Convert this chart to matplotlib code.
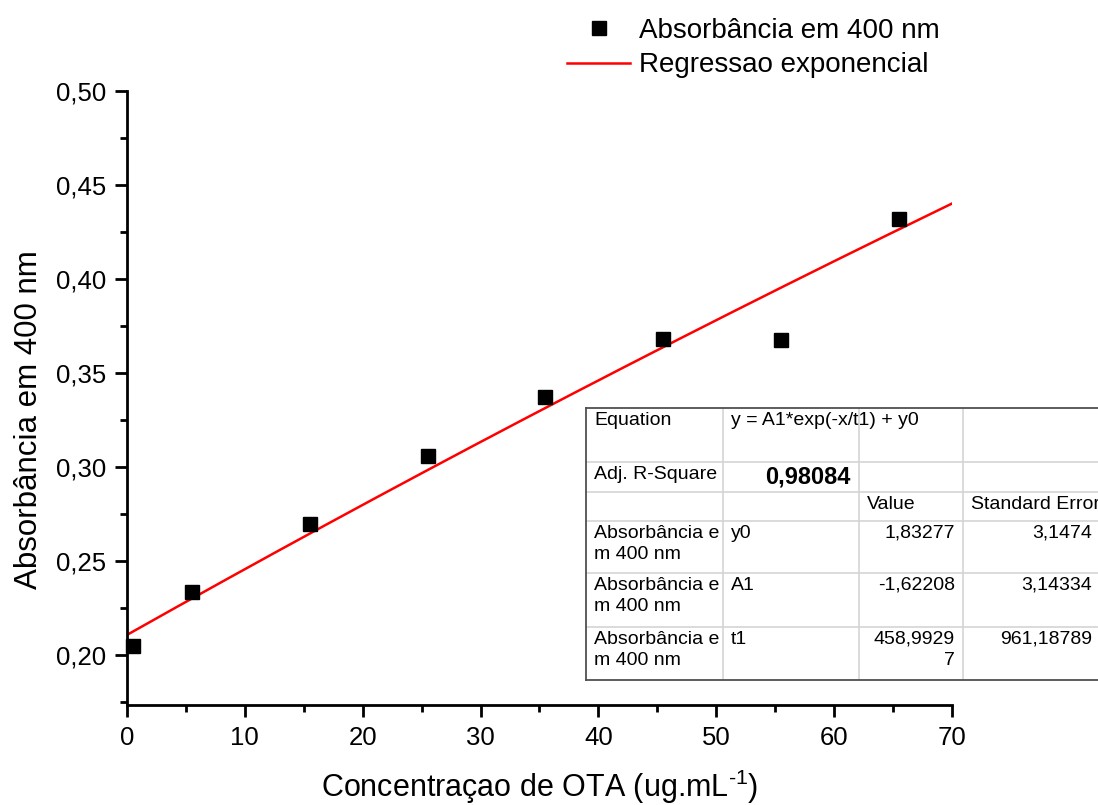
import numpy as np
import matplotlib
matplotlib.use("Agg")
import matplotlib.pyplot as plt
from matplotlib.patches import Rectangle
from matplotlib.lines import Line2D
from matplotlib.ticker import MultipleLocator, FuncFormatter

plt.rcParams['font.family'] = ['Liberation Sans', 'DejaVu Sans']
plt.rcParams['mathtext.fontset'] = 'custom'
plt.rcParams['mathtext.rm'] = 'Liberation Sans'
plt.rcParams['mathtext.it'] = 'Liberation Sans'

# Measured data
concentration = [0.5, 5.5, 15.5, 25.5, 35.5, 45.5, 55.5, 65.5]
absorbance = [0.2048, 0.2335, 0.2697, 0.3059, 0.3372, 0.3681, 0.3676, 0.4319]

# Exponential fit parameters
y0 = 1.83277
A1 = -1.62208
t1 = 458.99297
adj_r2 = "0,98084"

table_rows = [
    ["Equation", "y = A1*exp(-x/t1) + y0", "", ""],
    ["Adj. R-Square", adj_r2, "", ""],
    ["", "", "Value", "Standard Error"],
    ["Absorbância e\nm 400 nm", "y0", "1,83277", "3,1474"],
    ["Absorbância e\nm 400 nm", "A1", "-1,62208", "3,14334"],
    ["Absorbância e\nm 400 nm", "t1", "458,9929\n7", "961,18789"],
]

W, H = 1098, 805
fig = plt.figure(figsize=(W / 100, H / 100), dpi=100)


def fx(px):
    return px / W


def fy(py):
    return 1 - py / H


ax = fig.add_axes([fx(127), fy(705), (952 - 127) / W, (705 - 91) / H])

xfit = np.linspace(0, 70, 300)
yfit = A1 * np.exp(-xfit / t1) + y0

ax.plot(concentration, absorbance, 's', color='black', markersize=10,
        label='Absorbância em 400 nm', clip_on=False, zorder=3)
ax.plot(xfit, yfit, '-', color='#ff0000', lw=1.8, label='Regressao exponencial', zorder=2)

ax.set_xlim(0, 70)
ax.set_ylim(0.1734, 0.50)
ax.xaxis.set_major_locator(MultipleLocator(10))
ax.xaxis.set_minor_locator(MultipleLocator(5))
ax.yaxis.set_major_locator(MultipleLocator(0.05))
ax.yaxis.set_minor_locator(MultipleLocator(0.025))
ax.yaxis.set_major_formatter(FuncFormatter(lambda v, p: f"{v:.2f}".replace('.', ',')))
for s in ['top', 'right']:
    ax.spines[s].set_visible(False)
for s in ['left', 'bottom']:
    ax.spines[s].set_linewidth(2)
ax.tick_params(which='major', direction='out', length=8.6, width=2, labelsize=18.5, pad=6.5)
ax.tick_params(which='minor', direction='out', length=5, width=2)

fig.text(fx(540), fy(797), "Concentraçao de OTA (ug.mL$^{\\text{-1}}$)", fontsize=22,
         ha='center', va='baseline')
fig.text(fx(37), fy(420), "Absorbância em 400 nm", fontsize=22.5, rotation=90,
         rotation_mode='anchor', ha='center', va='baseline')

leg = ax.legend(loc='upper left', bbox_to_anchor=(fx(567), fy(18)),
                bbox_transform=fig.transFigure, frameon=False, fontsize=20,
                handlelength=2.27, handletextpad=0.32, labelspacing=0.3,
                borderaxespad=0, borderpad=0)

# Fit results table in figure pixel coordinates
cols = [586, 723, 859, 963]
rows = [408, 462, 492, 521, 573, 627, 680]
grid = '#d4d4d4'
border = '#505050'
fig.add_artist(Rectangle((fx(cols[0]), fy(rows[-1])), fx(W) - fx(cols[0]),
                         fy(rows[0]) - fy(rows[-1]), facecolor='white', edgecolor='none'))
for c in cols[1:]:
    fig.add_artist(Line2D([fx(c), fx(c)], [fy(rows[0]), fy(rows[-1])], color=grid, lw=1.2))
for r in rows[1:-1]:
    fig.add_artist(Line2D([fx(cols[0]), fx(W)], [fy(r), fy(r)], color=grid, lw=1.2))
for r in (rows[0], rows[-1]):
    fig.add_artist(Line2D([fx(cols[0]), fx(W)], [fy(r), fy(r)], color=border, lw=1.3))
fig.add_artist(Line2D([fx(cols[0]), fx(cols[0])], [fy(rows[0]), fy(rows[-1])], color=border, lw=1.3))

fs = 14
right_edges = {2: cols[3] - 8, 3: 1092}
for i, row in enumerate(table_rows):
    top = rows[i] + 4
    for j, txt in enumerate(row):
        if not txt:
            continue
        if i == 1 and j == 1:
            fig.text(fx(cols[2] - 8), fy(top - 1), txt, ha='right', va='top',
                     fontsize=17, fontweight='bold')
        elif j >= 2 and i >= 3:
            fig.text(fx(right_edges[j]), fy(top), txt, ha='right', va='top',
                     fontsize=fs, linespacing=1.3)
        else:
            fig.text(fx(cols[j] + 8), fy(top), txt, ha='left', va='top',
                     fontsize=fs, linespacing=1.3)

fig.savefig("out.png", dpi=100)
